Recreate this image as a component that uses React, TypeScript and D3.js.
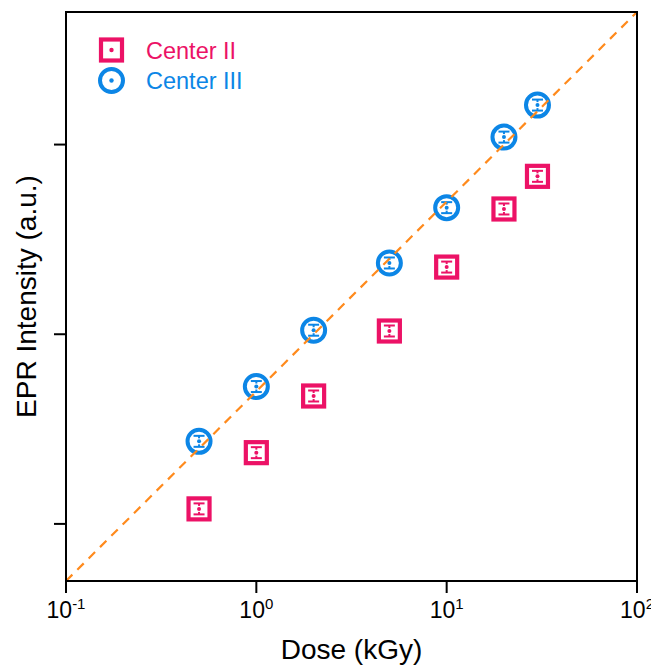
import React from "react";
import * as d3 from "d3";

const doses = [0.5, 1, 2, 5, 10, 20, 30];
const center2 = [0.24, 0.475, 0.945, 2.08, 4.52, 9.15, 13.6];
const center3 = [0.545, 1.06, 2.1, 4.75, 9.3, 21.9, 32.3];
const xTicks = [0.1, 1, 10, 100];
const xTickExp = ["-1", "0", "1", "2"];
const yTicks = [0.2, 2, 20];

const PINK = "#ec1266";
const BLUE = "#0c86e6";
const ORANGE = "#ff8a1c";

const W = 651, H = 666;
const L = 66, R = 637, T = 12, B = 581;

function ErrBar({ color }: { color: string }) {
  return (
    <g stroke={color} strokeWidth={2}>
      <line x1={-5.5} x2={5.5} y1={-5.5} y2={-5.5} />
      <line x1={-5.5} x2={5.5} y1={5.5} y2={5.5} />
      <line x1={0} x2={0} y1={-5.5} y2={-3} />
      <line x1={0} x2={0} y1={5.5} y2={3} />
      <circle r={2} fill={color} stroke="none" />
    </g>
  );
}

function Square({ x, y, err = true }: { x: number; y: number; err?: boolean }) {
  return (
    <g transform={`translate(${x},${y})`}>
      <rect x={-10.5} y={-10.5} width={21} height={21} fill="white" stroke={PINK} strokeWidth={4.2} />
      {err ? <ErrBar color={PINK} /> : <circle r={2.2} fill={PINK} />}
    </g>
  );
}

function Circle({ x, y, err = true }: { x: number; y: number; err?: boolean }) {
  return (
    <g transform={`translate(${x},${y})`}>
      <circle r={11.5} fill="white" stroke={BLUE} strokeWidth={4} />
      {err ? <ErrBar color={BLUE} /> : <circle r={2.2} fill={BLUE} />}
    </g>
  );
}

export default function App() {
  const x = d3.scaleLog().domain([0.1, 100]).range([L, R]);
  const y = d3.scaleLog().domain([0.1, 100]).range([B, T]);
  const font = "'Liberation Sans', Arial, sans-serif";
  return (
    <svg width={W} height={H} style={{ position: "absolute", left: 0, top: 0 }} fontFamily={font}>
      <rect x={0} y={0} width={W} height={H} fill="white" />
      {doses.map((d, i) => (
        <Square key={"s" + i} x={x(d)} y={y(center2[i])} />
      ))}
      {doses.map((d, i) => (
        <Circle key={"c" + i} x={x(d)} y={y(center3[i])} />
      ))}
      <line x1={x(0.1)} y1={y(0.1)} x2={x(100)} y2={y(100)} stroke={ORANGE} strokeWidth={2.2} strokeDasharray="9,7" />
      <rect x={L} y={T} width={R - L} height={B - T} fill="none" stroke="black" strokeWidth={2} />
      {xTicks.map((t, i) => (
        <g key={"xt" + i}>
          <line x1={x(t)} x2={x(t)} y1={B} y2={B + 12} stroke="black" strokeWidth={2} />
          <text x={x(t)} y={618} fontSize={23} textAnchor="middle" fill="black" textLength={i === 3 ? undefined : undefined}>
            10<tspan dy={-9} fontSize={15}>{xTickExp[i]}</tspan>
          </text>
        </g>
      ))}
      {yTicks.map((t, i) => (
        <line key={"yt" + i} x1={L - 12} x2={L} y1={y(t)} y2={y(t)} stroke="black" strokeWidth={2} />
      ))}
      <text x={(L + R) / 2} y={659} fontSize={28} textAnchor="middle" fill="black">Dose (kGy)</text>
      <text transform={`translate(36,${(T + B) / 2}) rotate(-90)`} fontSize={28} textAnchor="middle" fill="black">EPR Intensity (a.u.)</text>
      <Square x={111.5} y={50} err={false} />
      <text x={146} y={59} fontSize={23.5} fill={PINK}>Center II</text>
      <Circle x={111.5} y={80.5} err={false} />
      <text x={146} y={89} fontSize={23.5} fill={BLUE}>Center III</text>
    </svg>
  );
}
